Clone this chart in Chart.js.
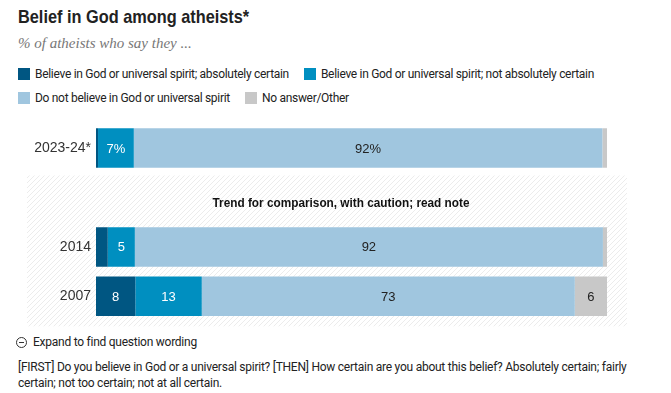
<!DOCTYPE html>
<html>
<head>
<meta charset="utf-8">
<script src="https://cdn.jsdelivr.net/npm/chart.js@4"></script>
<style>
  body { margin: 0; background: #fff; width: 671px; height: 393px; overflow: hidden; position: relative; font-family: Roboto, 'Liberation Sans', Arial, sans-serif; color: #222; }
  .title { position: absolute; left: 18px; top: 6px; font: bold 19px 'Liberation Sans', Arial, sans-serif; color: #222; transform-origin: 0 0; white-space: nowrap; }
  .subtitle { position: absolute; left: 18px; top: 35px; font: italic 15px 'Liberation Serif', 'DejaVu Serif', serif; color: #777; }
  #legend { position: absolute; left: 18px; top: 67px; width: 630px; display: flex; flex-wrap: wrap; column-gap: 15px; row-gap: 10px; font-size: 12px; letter-spacing: -0.3px; color: #222; }
  #legend .item { display: flex; align-items: center; height: 14px; }
  #legend .sw { width: 12px; height: 12px; margin-right: 5px; }
  #wrap { position: absolute; left: 0; top: 110px; width: 671px; height: 225px; }
  .expand { position: absolute; left: 16px; top: 335px; font-size: 12px; letter-spacing: -0.25px; color: #222; display: flex; align-items: center; }
  .expand .ic { width: 9px; height: 9px; border: 1px solid #333; border-radius: 50%; margin-right: 6px; position: relative; }
  .expand .ic:after { content: ''; position: absolute; left: 2px; top: 4px; width: 5px; height: 1px; background: #333; }
  .note { position: absolute; left: 18px; top: 359px; font-size: 12px; letter-spacing: -0.25px; line-height: 16px; color: #222; white-space: nowrap; }
</style>
</head>
<body>
<div class="title" id="title">Belief in God among atheists*</div>
<div class="subtitle">% of atheists who say they ...</div>
<div id="legend"></div>
<div id="wrap"><canvas id="chart" width="671" height="225"></canvas></div>
<div class="expand"><span class="ic"></span>Expand to find question wording</div>
<div class="note">[FIRST] Do you believe in God or a universal spirit? [THEN] How certain are you about this belief? Absolutely certain; fairly<br>certain; not too certain; not at all certain.</div>
<script>
// survey years (blank row is the gap holding the caution note)
const years = ['2023-24*', '', '2014', '2007'];
const seriesNames = [
  'Believe in God or universal spirit; absolutely certain',
  'Believe in God or universal spirit; not absolutely certain',
  'Do not believe in God or universal spirit',
  'No answer/Other'
];
const certain    = [0.4, null, 2.3, 7.7];
const notCertain = [7.0, null, 5.3, 13.0];
const notBelieve = [91.7, null, 91.6, 73.0];
const noAnswer   = [0.9, null, 0.8, 6.3];
const colors = ['#005682', '#008fc0', '#a0c6df', '#c8c8c8'];
const labelColors = ['#fff', '#fff', '#222', '#222'];
const cautionNote = 'Trend for comparison, with caution; read note';

const values = [certain, notCertain, notBelieve, noAnswer];

// squeeze the headline into the condensed width of the original
const titleEl = document.getElementById('title');
titleEl.style.transform = 'scaleX(' + (231 / titleEl.offsetWidth) + ')';

// legend
const legendEl = document.getElementById('legend');
seriesNames.forEach((name, i) => {
  const item = document.createElement('div');
  item.className = 'item';
  item.innerHTML = '<span class="sw" style="background:' + colors[i] + '"></span>' + name;
  legendEl.appendChild(item);
});

// hatched "trend" panel behind the older rows
const hatchPanel = {
  id: 'hatchPanel',
  beforeDraw(chart) {
    const ctx = chart.ctx;
    const y = chart.scales.y;
    const tile = document.createElement('canvas');
    tile.width = 5; tile.height = 5;
    const t = tile.getContext('2d');
    t.strokeStyle = '#ececec';
    t.lineWidth = 1;
    t.beginPath();
    t.moveTo(0, 5); t.lineTo(5, 0);
    t.moveTo(-1, 1); t.lineTo(1, -1);
    t.moveTo(4, 6); t.lineTo(6, 4);
    t.stroke();
    const top = y.getPixelForValue(1) - 22;
    const bottom = y.getPixelForValue(3) + 30;
    ctx.save();
    ctx.fillStyle = ctx.createPattern(tile, 'repeat');
    ctx.fillRect(27, top, 600, bottom - top);
    ctx.fillStyle = '#111';
    ctx.font = "bold 13px 'Liberation Sans', Arial, sans-serif";
    ctx.textAlign = 'center';
    ctx.textBaseline = 'middle';
    const w = ctx.measureText(cautionNote).width;
    const sx = 257 / w;
    ctx.translate(341, y.getPixelForValue(1) + 6);
    ctx.scale(sx, 1);
    ctx.fillText(cautionNote, 0, 0);
    ctx.restore();
  }
};

// numbers inside the bar segments
const barLabels = {
  id: 'barLabels',
  afterDatasetsDraw(chart) {
    const ctx = chart.ctx;
    ctx.save();
    ctx.font = "13px 'Liberation Sans', Arial, sans-serif";
    ctx.textAlign = 'center';
    ctx.textBaseline = 'middle';
    chart.data.datasets.forEach((ds, di) => {
      chart.getDatasetMeta(di).data.forEach((bar, i) => {
        const v = ds.data[i];
        if (v == null || v < 3) return;
        const p = bar.getCenterPoint();
        ctx.fillStyle = labelColors[di];
        ctx.fillText(Math.round(v) + (i === 0 ? '%' : ''), p.x, p.y + 1);
      });
    });
    ctx.restore();
  }
};

const config = {
  type: 'bar',
  data: {
    labels: years,
    datasets: seriesNames.map((name, i) => ({
      label: name,
      data: values[i],
      backgroundColor: colors[i],
      borderWidth: 0,
      barPercentage: 0.8,
      categoryPercentage: 1
    }))
  },
  options: {
    indexAxis: 'y',
    responsive: false,
    animation: false,
    layout: { padding: { top: 11, bottom: 14, left: 0, right: 64 } },
    plugins: { legend: { display: false }, tooltip: { enabled: false } },
    scales: {
      x: { stacked: true, min: 0, max: 100, display: false },
      y: {
        stacked: true,
        grid: { display: false, drawTicks: false },
        border: { display: false },
        ticks: { color: '#333', font: { size: 14, family: "'Liberation Sans', Arial, sans-serif" }, padding: 5 },
        afterFit(scale) { scale.width = 96; }
      }
    }
  },
  plugins: [hatchPanel, barLabels]
};

var myChart = new Chart(document.getElementById('chart'), config);
</script>
</body>
</html>
